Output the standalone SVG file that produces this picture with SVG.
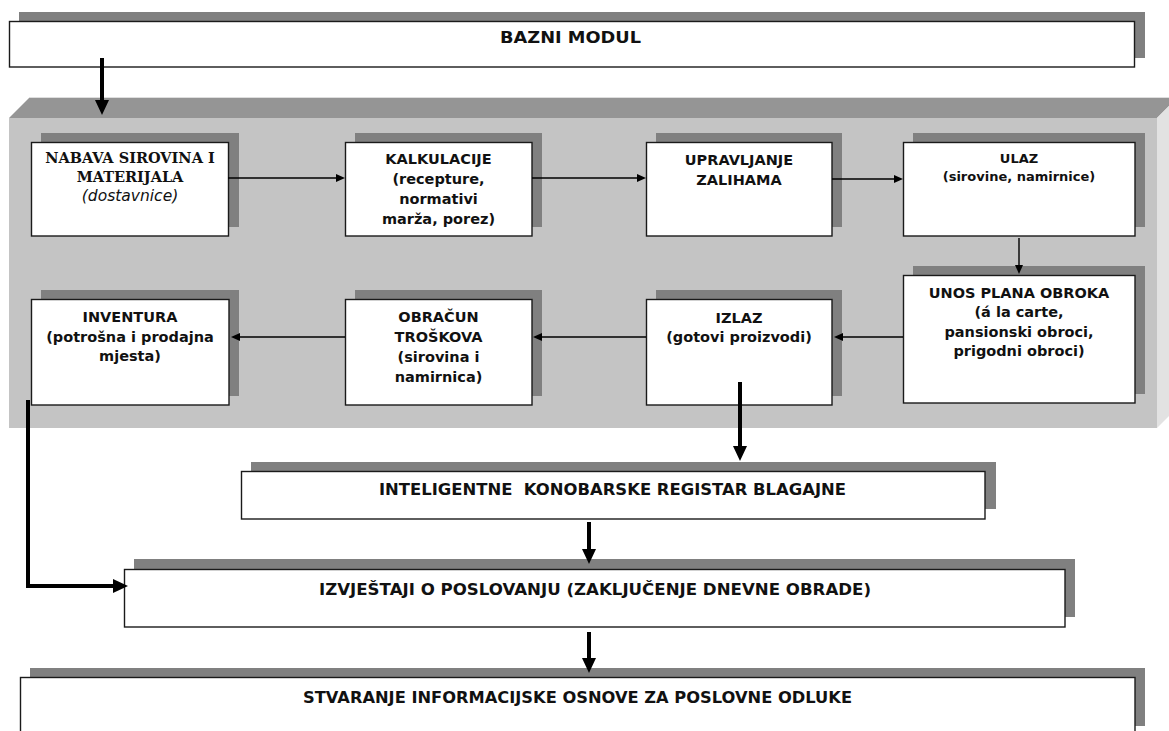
<svg xmlns="http://www.w3.org/2000/svg" width="1169" height="731" viewBox="0 0 1169 731">
<style>
  .shadow { fill: #808080; }
  .box { fill: #ffffff; stroke: #1a1a1a; stroke-width: 1.4; }
  .t { font-family: "DejaVu Sans", "Liberation Sans", sans-serif; font-weight: bold; font-size: 14.5px; fill: #111111; text-anchor: middle; }
  .ts { font-size: 13px; }
  .tb { font-size: 16.5px; }
  .serif { font-family: "DejaVu Serif", "Liberation Serif", serif; font-weight: bold; font-size: 14.5px; fill: #111111; text-anchor: middle; }
  .ital { font-family: "DejaVu Sans", "Liberation Sans", sans-serif; font-style: italic; font-weight: normal; font-size: 15.5px; fill: #111111; text-anchor: middle; }
  .thin { fill: none; stroke: #000000; stroke-width: 1.4; }
  .thick { fill: none; stroke: #000000; stroke-width: 4; }
</style>
<defs>
  <marker id="ah" markerUnits="userSpaceOnUse" markerWidth="10" markerHeight="8" refX="0" refY="4" orient="auto" viewBox="0 0 10 8">
    <path d="M0,0 L9,4 L0,8 Z" fill="#000000"/>
  </marker>
  <marker id="ahBig" markerUnits="userSpaceOnUse" markerWidth="16" markerHeight="14" refX="0" refY="7" orient="auto" viewBox="0 0 16 14">
    <path d="M0,0 L15,7 L0,14 Z" fill="#000000"/>
  </marker>
</defs>

<rect x="0" y="0" width="1169" height="731" fill="#ffffff"/>

<g id="panel">
  <rect x="9" y="118" width="1148" height="310" fill="#c4c4c4"/>
  <polygon points="9,118 29,98 1169,98 1169,106 1157,118" fill="#959595"/>
  <polygon points="1157,118 1169,106 1169,416 1157,428" fill="#e2e2e2"/>
  <line x1="29" y1="97.5" x2="1169" y2="97.5" stroke="#dedede" stroke-width="1"/>
</g>

<g id="bazni-modul">
  <rect class="shadow" x="19" y="12" width="1126" height="46"/>
  <rect class="box" x="9.5" y="21.5" width="1125" height="45.5"/>
  <text class="t tb" x="570.5" y="43" textLength="141" lengthAdjust="spacingAndGlyphs">BAZNI MODUL</text>
</g>

<g id="nabava">
  <rect class="shadow" x="41" y="133" width="198" height="94"/>
  <rect class="box" x="31.5" y="142.5" width="197" height="93.5"/>
  <text class="serif" x="130" y="163">NABAVA SIROVINA I</text>
  <text class="serif" x="130" y="182">MATERIJALA</text>
  <text class="ital" x="130" y="201">(dostavnice)</text>
</g>

<g id="kalkulacije">
  <rect class="shadow" x="355" y="133" width="187" height="94"/>
  <rect class="box" x="345.5" y="142.5" width="186.5" height="93.5"/>
  <text class="t" x="438.5" y="164">KALKULACIJE</text>
  <text class="t" x="438.5" y="184">(recepture,</text>
  <text class="t" x="438.5" y="204">normativi</text>
  <text class="t" x="438.5" y="224">marža, porez)</text>
</g>

<g id="upravljanje">
  <rect class="shadow" x="656" y="133" width="186" height="94"/>
  <rect class="box" x="646.5" y="142.5" width="185.5" height="93.5"/>
  <text class="t" x="739" y="165">UPRAVLJANJE</text>
  <text class="t" x="739" y="185">ZALIHAMA</text>
</g>

<g id="ulaz">
  <rect class="shadow" x="913" y="133" width="232" height="94"/>
  <rect class="box" x="903.5" y="142.5" width="231.5" height="93.5"/>
  <text class="t ts" x="1019" y="163">ULAZ</text>
  <text class="t ts" x="1019" y="181">(sirovine, namirnice)</text>
</g>

<g id="unos-plana">
  <rect class="shadow" x="913" y="266" width="232" height="128"/>
  <rect class="box" x="903.5" y="275.5" width="231.5" height="127.5"/>
  <text class="t" x="1019" y="298">UNOS PLANA OBROKA</text>
  <text class="t" x="1019" y="317">(á la carte,</text>
  <text class="t" x="1019" y="337">pansionski obroci,</text>
  <text class="t" x="1019" y="356">prigodni obroci)</text>
</g>

<g id="izlaz">
  <rect class="shadow" x="656" y="290" width="186" height="106"/>
  <rect class="box" x="646.5" y="299.5" width="185.5" height="105.5"/>
  <text class="t" x="739" y="323">IZLAZ</text>
  <text class="t" x="739" y="342">(gotovi proizvodi)</text>
</g>

<g id="obracun">
  <rect class="shadow" x="355" y="290" width="187" height="106"/>
  <rect class="box" x="345.5" y="299.5" width="186.5" height="105.5"/>
  <text class="t" x="438.5" y="322">OBRAČUN</text>
  <text class="t" x="438.5" y="342">TROŠKOVA</text>
  <text class="t" x="438.5" y="362">(sirovina i</text>
  <text class="t" x="438.5" y="382">namirnica)</text>
</g>

<g id="inventura">
  <rect class="shadow" x="41" y="290" width="198" height="106"/>
  <rect class="box" x="31.5" y="299.5" width="197.5" height="105.5"/>
  <text class="t" x="130" y="322">INVENTURA</text>
  <text class="t" x="130" y="342">(potrošna i prodajna</text>
  <text class="t" x="130" y="361">mjesta)</text>
</g>

<g id="inteligentne">
  <rect class="shadow" x="251" y="462" width="745" height="47"/>
  <rect class="box" x="241.5" y="471.5" width="743.5" height="47.5"/>
  <text class="t tb" x="612.5" y="495" xml:space="preserve" textLength="467" lengthAdjust="spacingAndGlyphs">INTELIGENTNE  KONOBARSKE REGISTAR BLAGAJNE</text>
</g>

<g id="izvjestaji">
  <rect class="shadow" x="134" y="559" width="941" height="58"/>
  <rect class="box" x="124.5" y="569.5" width="940.5" height="57.5"/>
  <text class="t tb" x="595" y="595" textLength="552" lengthAdjust="spacingAndGlyphs">IZVJEŠTAJI O POSLOVANJU (ZAKLJUČENJE DNEVNE OBRADE)</text>
</g>

<g id="stvaranje">
  <rect class="shadow" x="30" y="668" width="1115" height="58"/>
  <rect class="box" x="20.5" y="677.5" width="1114.5" height="60"/>
  <text class="t tb" x="577.5" y="703" textLength="549" lengthAdjust="spacingAndGlyphs">STVARANJE INFORMACIJSKE OSNOVE ZA POSLOVNE ODLUKE</text>
</g>

<g id="connectors">
  <path class="thick" d="M102,58 V100" marker-end="url(#ahBig)"/>
  <path class="thin" d="M228,178 H336" marker-end="url(#ah)"/>
  <path class="thin" d="M532,178 H637" marker-end="url(#ah)"/>
  <path class="thin" d="M832,179 H894" marker-end="url(#ah)"/>
  <path class="thin" d="M1019,238 V265" marker-end="url(#ah)"/>
  <path class="thin" d="M903,337 H843" marker-end="url(#ah)"/>
  <path class="thin" d="M646,337 H542" marker-end="url(#ah)"/>
  <path class="thin" d="M345,337 H240" marker-end="url(#ah)"/>
  <path class="thick" d="M740,382 V446" marker-end="url(#ahBig)"/>
  <path class="thick" d="M28,400 V586 H113" marker-end="url(#ahBig)"/>
  <path class="thick" d="M589,522 V549" marker-end="url(#ahBig)"/>
  <path class="thick" d="M589,632 V658" marker-end="url(#ahBig)"/>
</g>
</svg>
